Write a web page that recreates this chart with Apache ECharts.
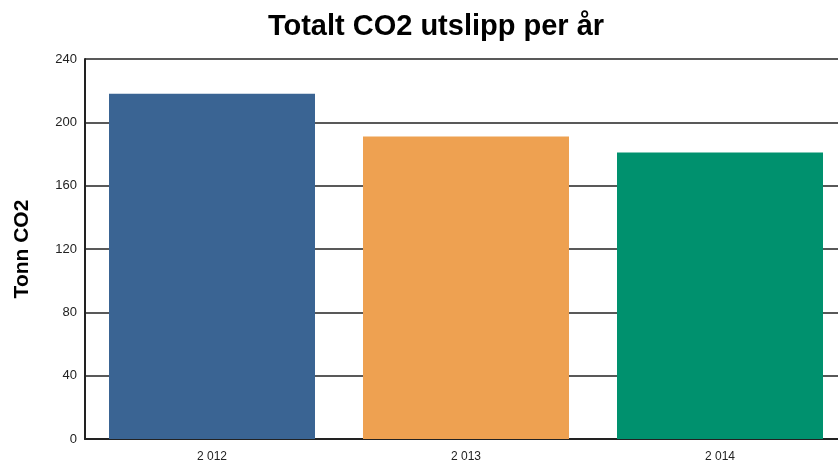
<!DOCTYPE html>
<html>
<head>
<meta charset="utf-8">
<script src="https://cdn.jsdelivr.net/npm/echarts@6/dist/echarts.min.js"></script>
<style>
  html, body { margin: 0; padding: 0; background: #fff; overflow: hidden; }
  /* plottet fortsetter litt forbi høyre kant, som i originalen */
  #chart { width: 860px; height: 470px; }
</style>
</head>
<body>
<div id="chart"></div>
<script>
// år og utslipp (tonn CO2)
const years = ['2 012', '2 013', '2 014'];
const values = [218, 191, 181];
const barColors = ['#3a6493', '#eea151', '#00916e'];
const yTicks = [0, 40, 80, 120, 160, 200, 240];

const chart = echarts.init(document.getElementById('chart'));

const option = {
    animation: false,
    title: {
        text: 'Totalt CO2 utslipp per år',
        left: 431,
        top: 7,
        textAlign: 'center',
        textStyle: {
            fontFamily: 'Liberation Sans',
            fontSize: 29,
            fontWeight: 'bold',
            color: '#000'
        }
    },
    grid: {
        left: 85,
        top: 59,
        width: 762,
        height: 380,
        outerBoundsMode: 'none'
    },
    xAxis: {
        type: 'category',
        data: years,
        axisLine: { show: true, lineStyle: { color: '#222', width: 2 } },
        axisTick: { show: false },
        axisLabel: {
            fontFamily: 'Liberation Sans',
            fontSize: 12,
            color: '#222',
            margin: 12
        }
    },
    yAxis: {
        type: 'value',
        min: yTicks[0],
        max: yTicks[yTicks.length - 1],
        interval: 40,
        name: 'Tonn CO2',
        nameLocation: 'middle',
        nameGap: 52,
        nameTextStyle: {
            fontFamily: 'Liberation Sans',
            fontSize: 21,
            fontWeight: 'bold',
            color: '#000'
        },
        axisLine: { show: true, lineStyle: { color: '#222', width: 2 } },
        axisTick: { show: false },
        axisLabel: {
            fontFamily: 'Liberation Sans',
            fontSize: 13,
            color: '#222',
            margin: 8
        },
        splitLine: { show: true, lineStyle: { color: '#222', width: 1.5 } }
    },
    series: [{
        type: 'bar',
        data: values.map((v, i) => ({ value: v, itemStyle: { color: barColors[i] } })),
        barWidth: 206
    }]
};

chart.setOption(option);
</script>
</body>
</html>
